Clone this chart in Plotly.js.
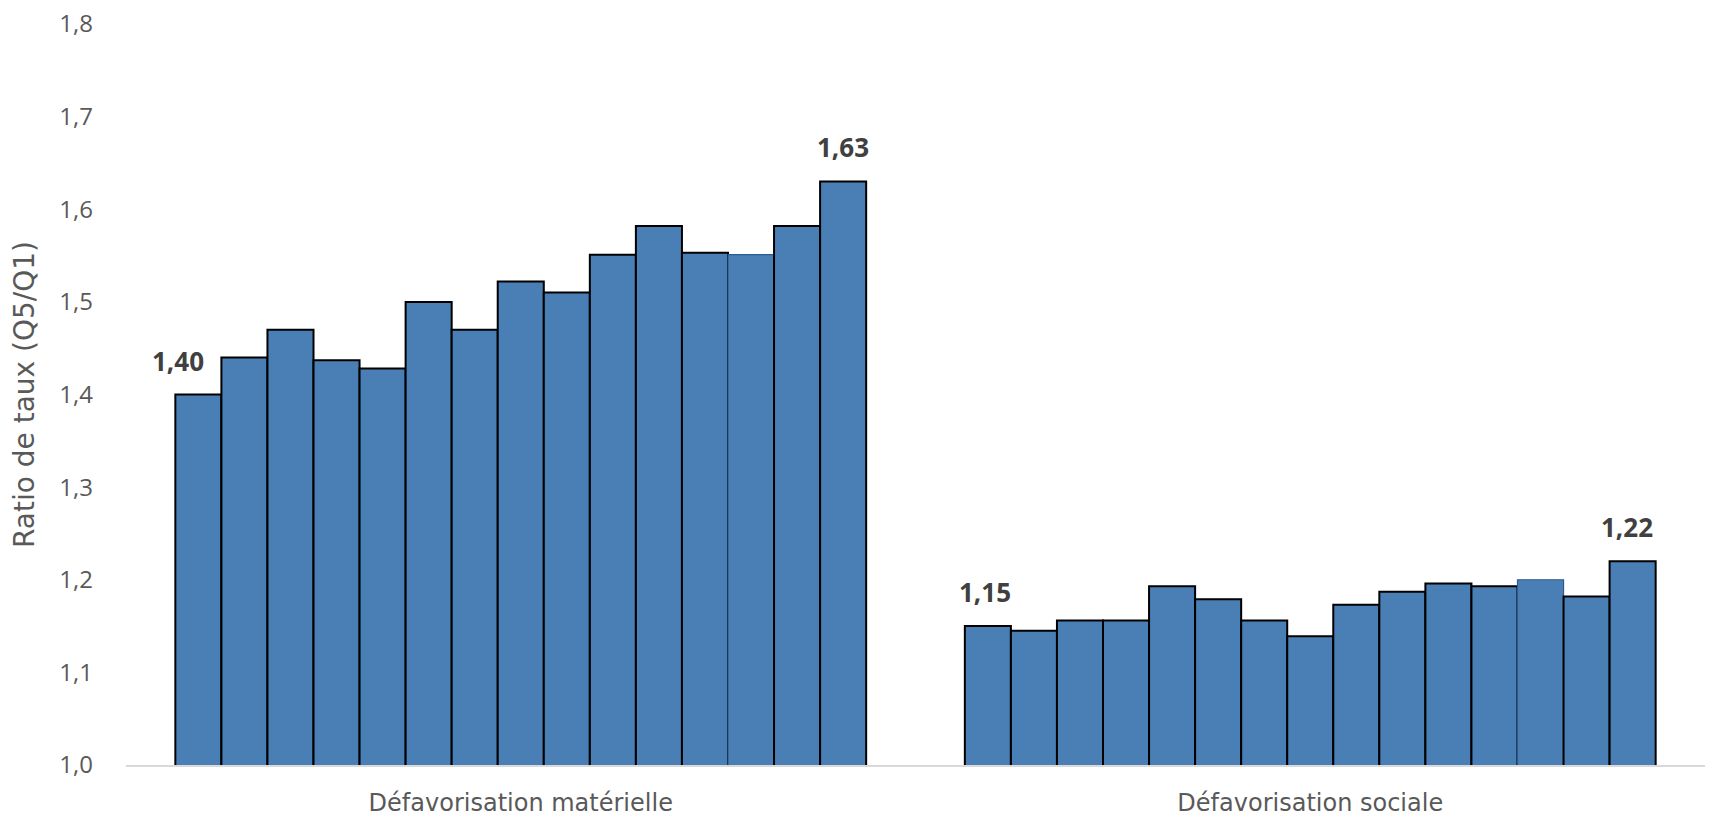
<!DOCTYPE html>
<html>
<head>
<meta charset="utf-8">
<script src="https://cdn.plot.ly/plotly-3.0.1.min.js"></script>
<style>
  html, body { margin: 0; padding: 0; background: #ffffff; }
  #chart { width: 1713px; height: 819px; }
</style>
</head>
<body>
<div id="chart"></div>
<script>
// Categories on the x axis
const categories = ["Défavorisation matérielle", "Défavorisation sociale"];

// Rate ratio Q5/Q1 for each of the 15 consecutive periods
const materielle = [1.40, 1.44, 1.47, 1.437, 1.428, 1.50, 1.47, 1.522, 1.51, 1.551, 1.582, 1.553, 1.551, 1.582, 1.63];
const sociale    = [1.15, 1.145, 1.156, 1.156, 1.193, 1.179, 1.156, 1.139, 1.173, 1.187, 1.196, 1.193, 1.20, 1.182, 1.22];

// Series labelled with their value (first and last period)
const labelledSeries = [0, 14];

// Y axis ticks
const yTicks = [1.0, 1.1, 1.2, 1.3, 1.4, 1.5, 1.6, 1.7, 1.8];
const yTickText = ["1,0", "1,1", "1,2", "1,3", "1,4", "1,5", "1,6", "1,7", "1,8"];

const nSeries = materielle.length;
const catX = categories.map((_, i) => i);
const BARGAP = 0.125;
const WIDE_FONT = "DejaVu Sans, Verdana, sans-serif";
const BASE_FONT = "Open Sans, Noto Sans, sans-serif";

const traces = [];
for (let i = 0; i < nSeries; i++) {
  const odd = (i === 12);
  traces.push({
    type: "bar",
    name: "Période " + (i + 1),
    x: catX,
    y: [materielle[i], sociale[i]],
    base: 0,
    marker: {
      color: "#4a7fb6",
      line: { color: odd ? "#2c5a8c" : "#000000", width: odd ? 1.2 : 2 }
    },
    hoverinfo: "y"
  });
}

// Value labels above the first and last bar of each group
const fmt = v => v.toFixed(2).replace(".", ",");
const slot = (1 - BARGAP) / nSeries;
const annotations = [];
labelledSeries.forEach(i => {
  const off = -(1 - BARGAP) / 2 + (i + 0.5) * slot;
  [materielle, sociale].forEach((arr, c) => {
    let xs = 0;
    if (i === 0 && c === 0) xs = -20;
    else if (i === 14 && c === 1) xs = -6;
    else if (i === 0 && c === 1) xs = -3;
    annotations.push({
      x: c + off, y: arr[i], xref: "x", yref: "y",
      text: "<b>" + fmt(arr[i]) + "</b>",
      showarrow: false, yanchor: "middle", xanchor: "center",
      yshift: 34, xshift: xs,
      font: { family: BASE_FONT, size: 26, color: "#404040" }
    });
  });
});

const layout = {
  width: 1713,
  height: 819,
  margin: { l: 126, r: 8, t: 24, b: 54, pad: 0 },
  paper_bgcolor: "#ffffff",
  plot_bgcolor: "#ffffff",
  barmode: "group",
  bargap: BARGAP,
  bargroupgap: 0,
  showlegend: false,
  separators: ", ",
  font: { family: BASE_FONT, color: "#595959" },
  xaxis: {
    range: [-0.5, 1.5],
    tickvals: catX,
    ticktext: categories,
    ticks: "",
    ticklabelstandoff: 16,
    tickfont: { family: WIDE_FONT, size: 24, color: "#595959" },
    showline: true,
    linecolor: "#d9d9d9",
    linewidth: 1.5,
    showgrid: false,
    zeroline: false,
    automargin: false,
    fixedrange: true
  },
  yaxis: {
    range: [1.0, 1.8],
    tickvals: yTicks,
    ticktext: yTickText,
    ticks: "",
    ticklabelstandoff: 32,
    tickfont: { size: 24, color: "#595959" },
    showline: false,
    showgrid: false,
    zeroline: false,
    automargin: false,
    title: {
      text: "Ratio de taux (Q5/Q1)",
      font: { family: WIDE_FONT, size: 28, color: "#595959" },
      standoff: 16
    },
    fixedrange: true
  },
  annotations: annotations
};

Plotly.newPlot("chart", traces, layout, { displayModeBar: false, staticPlot: true });
</script>
</body>
</html>
